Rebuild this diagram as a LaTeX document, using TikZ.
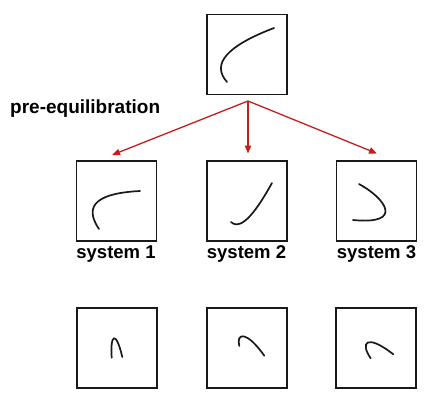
\documentclass[tikz,border=0pt]{standalone}
\usepackage{fontspec}
\setmainfont{Liberation Sans}
\usetikzlibrary{arrows.meta}
\definecolor{arrowred}{RGB}{196,30,30}
\begin{document}
\begin{tikzpicture}[x=1pt,y=-1pt,
  panel/.style={draw=black!90,line width=1.6pt,minimum width=80pt,minimum height=80pt,inner sep=0pt},
  sketch/.style={line width=1.7pt,line cap=round,black!90},
  lbl/.style={font=\fontsize{18.5}{22}\selectfont\bfseries,inner sep=0pt,anchor=base},
  flow/.style={draw=arrowred,line width=1.3pt,-{Triangle[length=8pt,width=6.5pt]}}]
\useasboundingbox (0,0) rectangle (436,400);
% boxes
\node[panel] (top) at (246.8,54.3) {};
\node[panel] (s1) at (116.5,201) {};
\node[panel] (s2) at (246.8,201) {};
\node[panel] (s3) at (376.5,201) {};
\node[panel] (b1) at (117,348) {};
\node[panel] (b2) at (246.8,348) {};
\node[panel] (b3) at (376,348) {};
% labels
\node[lbl] (l1) at (116,258.3) {system 1};
\node[lbl] (l2) at (246.5,258.3) {system 2};
\node[lbl] (l3) at (376.5,258.3) {system 3};
\node[lbl,font=\fontsize{19}{22}\selectfont\bfseries,anchor=base west] (pre) at (10,113) {pre-equilibration};
% arrows
\coordinate (apex) at (248,101);
\coordinate (t1) at (112,155);
\coordinate (t2) at (248,153.5);
\coordinate (t3) at (377,153.5);
\draw[flow] (apex) -- (t1);
\draw[flow] (apex) -- (t2);
\draw[flow] (apex) -- (t3);
% sketches
\draw[sketch] (274,28) .. controls (226.7,46) and (211,64) .. (227,82);
\draw[sketch] (140,191) .. controls (100,193) and (82,204) .. (99,229);
\draw[sketch] (272,183) .. controls (258,208) and (242,232) .. (231,222);
\draw[sketch] (359,184) .. controls (385,198) and (405,225) .. (353,220);
\draw[sketch] (111.7,357.7) .. controls (110,334) and (116,330) .. (122.3,357);
\draw[sketch] (239.3,346) .. controls (236,333) and (246,330) .. (264.3,355.7);
\draw[sketch] (370.7,358.3) .. controls (360,343) and (366,333) .. (393.3,354.3);
\end{tikzpicture}
\end{document}
